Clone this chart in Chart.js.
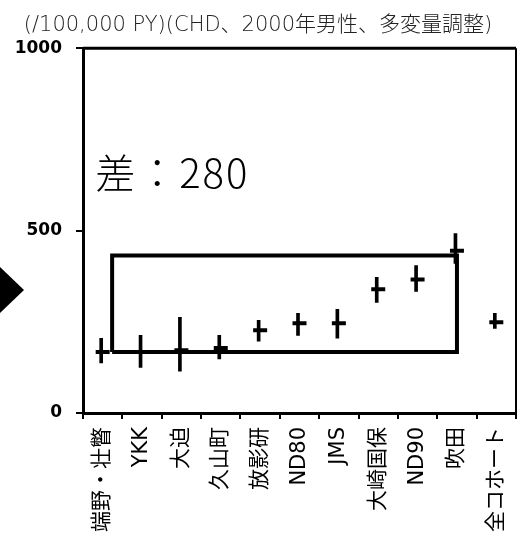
<!DOCTYPE html>
<html>
<head>
<meta charset="utf-8">
<script src="https://cdn.jsdelivr.net/npm/chart.js@4"></script>
<style>
  html, body { margin: 0; padding: 0; background: #fff; overflow: hidden; }
  #wrap { position: relative; width: 521px; height: 544px; }
</style>
</head>
<body>
<div id="wrap"><canvas id="myChart"></canvas></div>
<script>
// cohorts and rates (/100,000 PY)
const categories = ["端野・壮瞥", "YKK", "大迫", "久山町", "放影研", "ND80", "JMS", "大崎国保", "ND90", "吹田", "全コホート"];
const rates = [167, 167, 172, 178, 227, 246, 246, 339, 366, 445, 249];
const lower = [137, 125, 115, 148, 197, 213, 205, 303, 333, 410, 232];
const upper = [205, 213, 262, 213, 254, 273, 284, 372, 404, 492, 273];
const yTicks = [0, 500, 1000];

// the box showing the spread, in category units / rate units
const boxX = [0.24, 0.24, 9, 9, 0.24];
const boxY = [167, 432, 432, 167, 167];
const diffText = "差：280";
const diffPos = { x: -0.19, y: 617 };

const titleText = "(/100,000 PY)(CHD、2000年男性、多変量調整)";

function noPad(scale) {
  scale.paddingLeft = 0;
  scale.paddingRight = 0;
}

const frame = {
  id: "frame",
  afterDraw(chart) {
    const ctx = chart.ctx;
    const a = chart.chartArea;
    ctx.save();
    ctx.strokeStyle = "#000";
    ctx.lineWidth = 3;
    ctx.beginPath();
    ctx.moveTo(a.left, a.top);
    ctx.lineTo(a.right, a.top);
    ctx.stroke();
    ctx.lineWidth = 2;
    ctx.beginPath();
    ctx.moveTo(a.right, a.top);
    ctx.lineTo(a.right, a.bottom);
    ctx.stroke();
    // diff label
    const sx = chart.scales.x2, sy = chart.scales.y;
    ctx.fillStyle = "#000";
    ctx.font = "300 40px 'Noto Sans CJK JP'";
    ctx.letterSpacing = "2px";
    ctx.textBaseline = "alphabetic";
    ctx.fillText(diffText, sx.getPixelForValue(diffPos.x), sy.getPixelForValue(diffPos.y));
    ctx.letterSpacing = "0px";
    // slide arrow on the left
    ctx.beginPath();
    ctx.moveTo(0, 267);
    ctx.lineTo(24, 290);
    ctx.lineTo(0, 313);
    ctx.closePath();
    ctx.fill();
    ctx.restore();
  }
};

const ctx = document.getElementById("myChart").getContext("2d");
new Chart(ctx, {
  data: {
    labels: categories,
    datasets: [
      {
        type: "line",
        data: rates,
        showLine: false,
        pointStyle: "line",
        pointRadius: 7,
        pointBorderWidth: 4,
        borderColor: "#000",
        backgroundColor: "#000",
        order: 1
      },
      {
        type: "bar",
        data: lower.map((l, i) => [l, upper[i]]),
        backgroundColor: "#000",
        barThickness: 3,
        order: 2
      },
      {
        type: "line",
        xAxisID: "x2",
        data: boxX.map((x, i) => ({ x: x, y: boxY[i] })),
        borderColor: "#000",
        borderWidth: 4,
        pointRadius: 0,
        fill: false,
        order: 0
      }
    ]
  },
  options: {
    responsive: true,
    maintainAspectRatio: false,
    animation: false,
    layout: { autoPadding: false, padding: { left: 0, right: 5, top: 0, bottom: 0 } },
    plugins: {
      legend: { display: false },
      tooltip: { enabled: false },
      title: {
        display: true,
        text: titleText,
        color: "#222",
        font: { family: "'DejaVu Sans', 'Noto Sans CJK JP'", size: 21, weight: "200" },
        padding: { top: 13, bottom: 10 }
      }
    },
    scales: {
      x: {
        offset: true,
        grid: { offset: true, drawOnChartArea: false, color: "#000", lineWidth: 2, tickLength: 6 },
        border: { color: "#000", width: 3 },
        ticks: {
          color: "#000",
          font: { family: "'DejaVu Sans', 'Noto Sans CJK JP'", size: 21 },
          maxRotation: 90,
          minRotation: 90,
          padding: 8
        },
        afterFit(scale) {
          scale.height = 131;
          noPad(scale);
        }
      },
      x2: {
        type: "linear",
        min: -0.5,
        max: 10.5,
        display: false,
        afterFit: noPad
      },
      y: {
        min: 0,
        max: 1000,
        afterBuildTicks(scale) { scale.ticks = yTicks.map(v => ({ value: v })); },
        grid: { drawOnChartArea: false, color: "#000", lineWidth: 2, tickLength: 7 },
        border: { color: "#000", width: 3 },
        ticks: {
          color: "#000",
          padding: 14,
          font: { family: "'DejaVu Sans'", size: 17, weight: "bold" },
          callback: v => String(v)
        },
        afterFit(scale) {
          scale.width = 83;
          noPad(scale);
        }
      }
    }
  },
  plugins: [frame]
});
</script>
</body>
</html>
